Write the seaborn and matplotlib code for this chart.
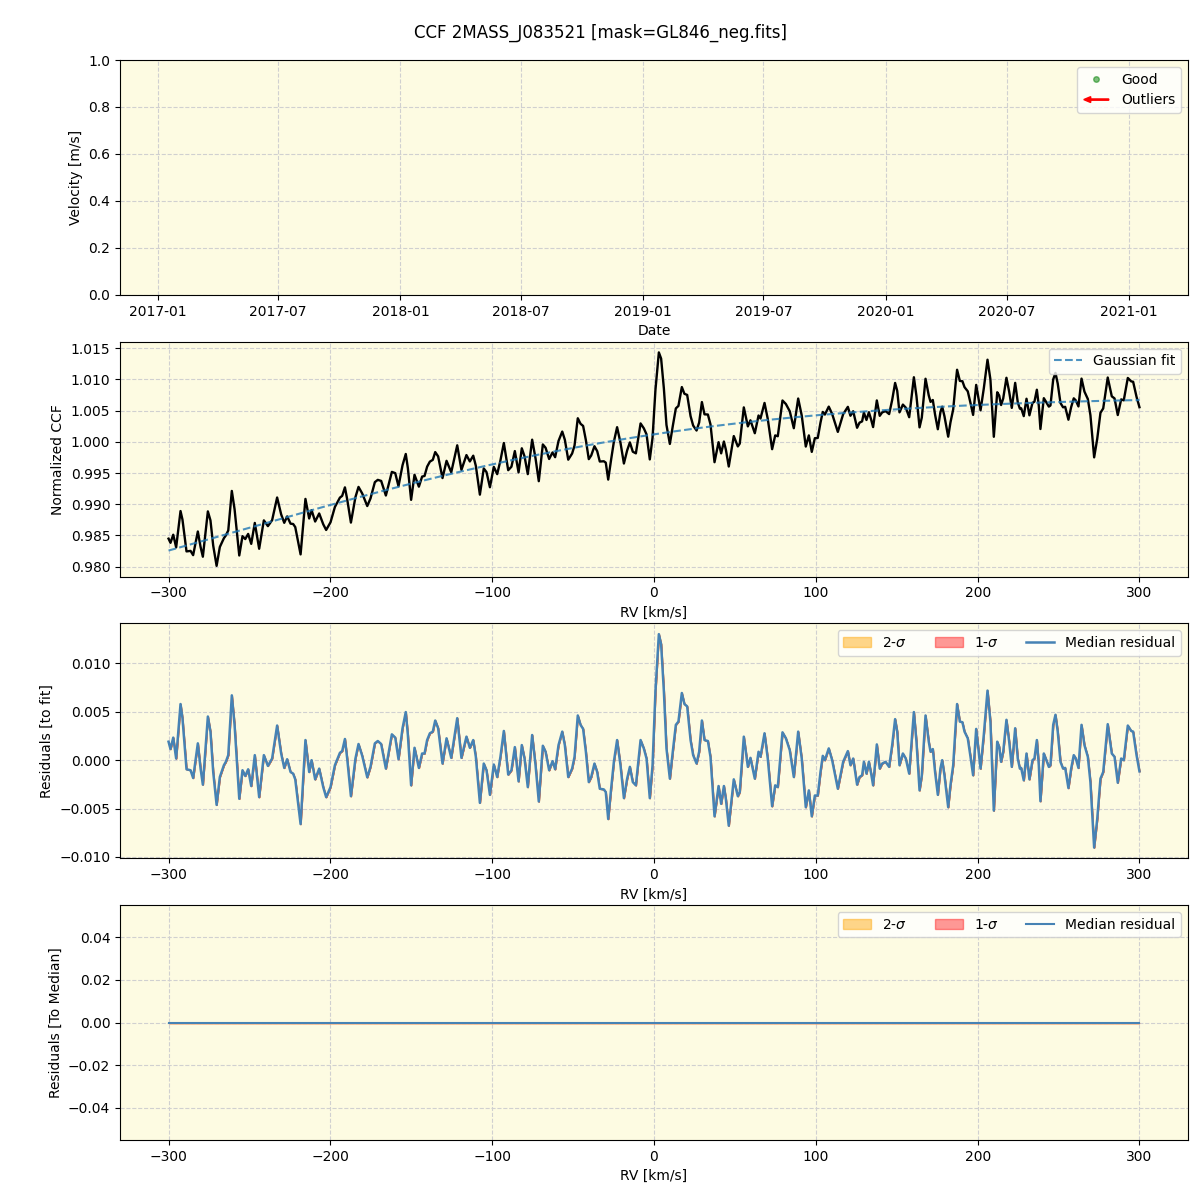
import numpy as np
import pandas as pd
import matplotlib
matplotlib.use("Agg")
import matplotlib.pyplot as plt
import matplotlib.dates as mdates
import matplotlib.patches as mpatches
from matplotlib.lines import Line2D
from matplotlib.legend_handler import HandlerPatch
import seaborn as sns

TITLE = "CCF 2MASS_J083521 [mask=GL846_neg.fits]"

# Radial-velocity grid points (km/s)
rv = [
    -300.0, -298.8, -297.1, -295.3, -292.6, -291.4, -288.9, -286.4, -284.8, -281.9,
    -280.2, -278.8, -275.7, -274.1, -272.4, -270.3, -268.3, -265.8, -264.6, -263.1,
    -260.9, -259.2, -256.3, -254.3, -252.6, -250.8, -248.9, -246.7, -244.0, -241.1,
    -238.6, -236.0, -232.9, -230.4, -228.5, -226.7, -224.6,
    -223.0, -221.7, -218.4, -215.4, -213.1, -211.6, -209.4, -206.9, -204.4, -202.6,
    -199.9, -197.2, -194.1, -192.7, -191.0, -189.6, -187.3, -184.5, -182.6, -180.3,
    -177.2, -175.2, -172.5, -170.7, -168.6, -165.7, -162.0, -159.9, -157.9, -155.4,
    -153.4,
    -152.1, -150.1, -148.0, -145.3, -143.3, -141.8, -140.2, -138.5, -136.7, -135.2,
    -133.4, -130.7, -128.2, -125.3, -121.6, -119.0, -115.9, -113.8, -111.7, -110.1,
    -107.6, -105.2, -103.5, -101.4, -99.0, -96.9, -94.9, -92.8, -90.1, -88.1,
    -86.0, -83.7, -81.7, -80.0, -78.0,
    -75.3, -73.2, -71.2, -68.7, -67.0, -64.8, -62.7, -61.1, -59.0, -56.7,
    -55.1, -53.0, -50.6, -49.1, -47.1, -45.4, -43.8, -42.1, -40.3, -38.8,
    -36.8, -35.1, -33.5, -31.0, -29.8, -28.3, -26.5, -24.8, -22.8, -20.7,
    -18.6, -16.6, -14.9, -13.1, -11.2, -8.3,
    -6.3, -4.6, -2.6, -0.9, 0.9, 3.0, 4.4, 6.1, 7.7, 9.8,
    11.6, 13.5, 15.1, 17.2, 18.8, 20.5, 22.6, 24.2, 26.3, 27.9,
    29.6, 31.2, 33.3, 34.9, 37.4, 39.9, 41.5, 43.2, 44.4, 46.2,
    49.3, 51.8, 53.0, 55.5, 58.0, 59.6, 62.3, 64.6, 65.8, 68.3,
    70.3, 73.0, 74.9, 76.5, 79.4, 81.5, 83.9, 86.4, 89.1, 91.3,
    93.8, 95.7, 97.5, 99.4, 101.2, 102.9, 104.3, 105.6, 108.0, 110.1,
    113.6, 116.9, 119.8, 121.4, 123.1, 125.5, 127.0, 128.6, 129.7, 131.3,
    132.8, 134.2, 135.4, 137.7, 139.5, 141.0, 143.1,
    145.3, 147.2, 149.0, 150.3, 151.7, 153.8, 155.6, 157.7, 160.6, 162.2,
    164.1, 165.5, 167.8, 169.8, 170.9, 172.3, 173.7, 175.4, 177.0, 178.1,
    179.5, 181.8, 183.2, 184.9, 186.3, 187.3, 189.0, 190.6, 191.9, 193.9,
    195.6, 197.2, 199.1, 201.8, 203.8, 206.1, 207.9, 210.0, 212.1, 213.3,
    214.5, 215.8, 217.8,
    219.5, 221.1, 223.2, 224.8, 226.1, 226.9, 228.5, 230.2, 232.0, 233.9,
    235.1, 236.6, 237.8, 238.8, 240.9, 242.1, 244.0, 245.0, 246.7, 248.1,
    249.5, 251.2, 252.8, 254.1, 256.1, 257.8, 259.4, 260.7, 262.3, 264.2,
    266.0, 268.1, 269.7, 272.0, 273.9, 275.9, 277.6, 280.4, 282.9, 284.6,
    286.6, 288.7, 290.3, 292.8, 294.9, 296.1, 298.2, 300.0,
]

# Residuals of the CCF relative to the Gaussian fit
resid_fit = [
    0.00191, 0.00115, 0.00233, 0.00017, 0.00580, 0.00434, -0.00094, -0.00104, -0.00184, 0.00174,
    -0.00087, -0.00253, 0.00451, 0.00295, -0.00122, -0.00462, -0.00174, -0.00052, -0.00017, 0.00052,
    0.00670, 0.00365, -0.00399, -0.00104, -0.00163, -0.00094, -0.00267, 0.00052, -0.00382, 0.00052,
    -0.00059, 0.00017, 0.00358, 0.00069, -0.00080, 0.00010, -0.00122,
    -0.00139, -0.00198, -0.00660, 0.00208, -0.00122, 0.00000, -0.00198, -0.00087, -0.00278, -0.00382,
    -0.00278, -0.00052, 0.00076, 0.00094, 0.00219, 0.00017, -0.00372, 0.00017, 0.00167, 0.00045,
    -0.00177, -0.00069, 0.00174, 0.00198, 0.00167, -0.00087, 0.00267, 0.00233, 0.00010, 0.00330,
    0.00497,
    0.00260, -0.00260, 0.00128, -0.00080, 0.00069, 0.00069, 0.00208, 0.00278, 0.00295, 0.00410,
    0.00330, -0.00035, 0.00226, 0.00024, 0.00434, 0.00024, 0.00243, 0.00128, 0.00208, 0.00035,
    -0.00441, -0.00035, -0.00104, -0.00358, -0.00045, -0.00174, 0.00035, 0.00302, -0.00149, -0.00104,
    0.00135, -0.00219, 0.00156, 0.00017, -0.00278,
    0.00260, -0.00052, -0.00427, 0.00149, 0.00087, -0.00104, -0.00010, -0.00094, 0.00156, 0.00295,
    0.00156, -0.00174, -0.00087, 0.00035, 0.00462, 0.00365, 0.00323, 0.00087, -0.00226, -0.00174,
    -0.00035, -0.00122, -0.00295, -0.00302, -0.00330, -0.00608, -0.00295, -0.00017, 0.00208, -0.00052,
    -0.00392, -0.00191, -0.00069, -0.00226, -0.00260, 0.00208,
    0.00122, 0.00017, -0.00392, -0.00052, 0.00712, 0.01302, 0.01198, 0.00712, 0.00122, -0.00191,
    0.00087, 0.00365, 0.00399, 0.00694, 0.00580, 0.00556, 0.00208, 0.00052, -0.00035, 0.00087,
    0.00410, 0.00208, 0.00198, 0.00035, -0.00580, -0.00267, -0.00451, -0.00267, -0.00399, -0.00677,
    -0.00198, -0.00372, -0.00330, 0.00243, -0.00069, 0.00024, -0.00191, 0.00087, 0.00035, 0.00278,
    0.00017, -0.00476, -0.00260, -0.00278, 0.00288, 0.00226, 0.00104, -0.00174, 0.00295, 0.00017,
    -0.00486, -0.00312, -0.00580, -0.00365, -0.00365, -0.00122, 0.00045, 0.00000, 0.00122, 0.00000,
    -0.00295, -0.00017, 0.00094, -0.00052, 0.00017, -0.00253, -0.00174, -0.00156, -0.00017, -0.00139,
    -0.00017, -0.00139, -0.00260, 0.00163, -0.00087, -0.00035, -0.00017,
    -0.00069, 0.00156, 0.00424, 0.00295, -0.00052, 0.00069, 0.00017, -0.00139, 0.00497, 0.00191,
    -0.00312, -0.00156, 0.00462, 0.00191, 0.00087, 0.00115, -0.00122, -0.00358, -0.00087, 0.00000,
    -0.00156, -0.00486, -0.00260, -0.00052, 0.00330, 0.00580, 0.00399, 0.00392, 0.00295, 0.00226,
    0.00035, -0.00156, 0.00323, -0.00087, 0.00260, 0.00719, 0.00399, -0.00521, 0.00191, 0.00139,
    -0.00017, 0.00087, 0.00417,
    0.00191, -0.00069, 0.00330, 0.00017, -0.00087, -0.00080, -0.00208, 0.00069, -0.00198, 0.00000,
    0.00017, 0.00208, -0.00052, -0.00424, 0.00069, 0.00017, -0.00069, -0.00052, 0.00365, 0.00469,
    0.00295, -0.00017, -0.00087, -0.00080, -0.00288, -0.00087, 0.00052, 0.00017, -0.00080, 0.00365,
    0.00156, 0.00035, -0.00226, -0.00903, -0.00608, -0.00191, -0.00122, 0.00372, 0.00069, 0.00035,
    -0.00233, 0.00017, 0.00000, 0.00358, 0.00302, 0.00295, 0.00052, -0.00115,
]

# Gaussian fit parameters (continuum, amplitude, centre, width)
fit_continuum = 1.0072
fit_amplitude = -0.0353
fit_center = -546.0
fit_sigma = 290.0

# Time axis range of the (empty) velocity panel
date_start = "2016-11-05"
date_end = "2021-03-31"

rv_arr = np.asarray(rv)
res_arr = np.asarray(resid_fit)
fit_arr = fit_continuum + fit_amplitude * np.exp(-0.5 * ((rv_arr - fit_center) / fit_sigma) ** 2)
ccf_arr = fit_arr + res_arr
median_ccf = ccf_arr.copy()           # single epoch -> median equals the CCF
res_median = ccf_arr - median_ccf

df = pd.DataFrame({"rv": rv_arr, "ccf": ccf_arr, "fit": fit_arr,
                   "res": res_arr, "res_med": res_median})

BG = "#fdfbe2"
GRID = dict(linestyle="--", color="#d0d0d0", linewidth=0.8)

fig, axes = plt.subplots(4, 1, figsize=(12, 12), dpi=100)
fig.subplots_adjust(left=0.1, right=0.99, top=0.95, bottom=0.05, hspace=0.2)
fig.suptitle(TITLE, fontsize=12)

for ax in axes:
    ax.set_facecolor(BG)
    ax.grid(True, **GRID)
    ax.set_axisbelow(True)

# ---- Panel 1: velocity vs date (no data) ----
ax = axes[0]
ax.set_xlim(pd.Timestamp(date_start).to_pydatetime(), pd.Timestamp(date_end).to_pydatetime())
ax.set_ylim(0, 1)
ax.xaxis.set_major_locator(mdates.MonthLocator(bymonth=[1, 7]))
ax.xaxis.set_major_formatter(mdates.DateFormatter("%Y-%m"))
ax.set_xlabel("Date")
ax.set_ylabel("Velocity [m/s]")


def make_arrow(legend, orig_handle, xdescent, ydescent, width, height, fontsize):
    return mpatches.FancyArrow(width * 0.95, height / 2, -width * 0.9, 0,
                               width=height * 0.13, head_width=height * 0.6,
                               head_length=width * 0.25, length_includes_head=True,
                               color="red")


good_h = Line2D([], [], marker="o", linestyle="", color="green", alpha=0.5,
                markersize=4, label="Good")
out_h = mpatches.FancyArrow(0, 0, 1, 0, color="red", label="Outliers")
ax.legend(handles=[good_h, out_h], loc="upper right",
          handler_map={mpatches.FancyArrow: HandlerPatch(patch_func=make_arrow)})

# ---- Panel 2: CCF and Gaussian fit ----
ax = axes[1]
sns.lineplot(data=df, x="rv", y="ccf", ax=ax, color="black", linewidth=1.7,
             sort=False, zorder=3, solid_joinstyle="round")
sns.lineplot(data=df, x="rv", y="fit", ax=ax, color="tab:blue", alpha=0.8,
             linewidth=1.5, linestyle="--", sort=False, zorder=4)
fit_line = ax.get_lines()[-1]
ax.legend([fit_line], ["Gaussian fit"], loc="upper right")
ax.set_xlabel("RV [km/s]")
ax.set_ylabel("Normalized CCF")

# ---- Panel 3: residuals to fit ----
ax = axes[2]
ax.fill_between(df["rv"], df["res"], df["res"], color="orange", alpha=0.45, label=r"2-$\sigma$")
ax.fill_between(df["rv"], df["res"], df["res"], color="red", alpha=0.4, label=r"1-$\sigma$")
sns.lineplot(data=df, x="rv", y="res", ax=ax, color="#4682b4", linewidth=1.8,
             sort=False, label="Median residual", zorder=3, solid_joinstyle="round")
ax.legend(loc="upper right", ncol=3)
ax.set_xlabel("RV [km/s]")
ax.set_ylabel("Residuals [to fit]")

# ---- Panel 4: residuals to median ----
ax = axes[3]
ax.fill_between(df["rv"], df["res_med"], df["res_med"], color="orange", alpha=0.45, label=r"2-$\sigma$")
ax.fill_between(df["rv"], df["res_med"], df["res_med"], color="red", alpha=0.4, label=r"1-$\sigma$")
sns.lineplot(data=df, x="rv", y="res_med", ax=ax, color="#4682b4", linewidth=1.5,
             sort=False, label="Median residual", zorder=3)
ax.legend(loc="upper right", ncol=3)
ax.set_xlabel("RV [km/s]")
ax.set_ylabel("Residuals [To Median]")

fig.savefig("out.png", dpi=100)
